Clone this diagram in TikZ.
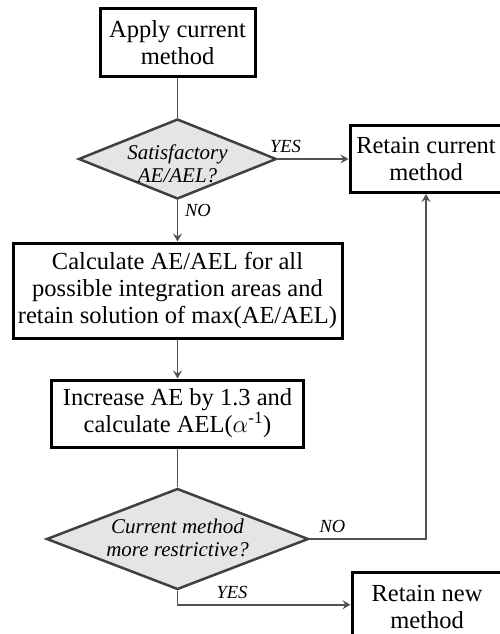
\documentclass[tikz,border=0pt]{standalone}
\usepackage{fontspec}
\setmainfont{Liberation Serif}
\usetikzlibrary{arrows.meta,shapes.geometric}
\begin{document}
\begin{tikzpicture}[x=1pt,y=-1pt,
  box/.style={draw=black,line width=3pt,fill=white,inner sep=0pt,font=\fontsize{24.5}{27}\selectfont,align=center},
  dec/.style={diamond,draw=black!75,line width=2.5pt,fill=black!10,inner sep=0pt},
  dtext/.style={font=\fontsize{21}{23}\selectfont\itshape,align=center,inner sep=0pt},
  lab/.style={font=\fontsize{18.5}{20}\selectfont\itshape,inner sep=0pt},
  conn/.style={draw=black!68,line width=1.8pt},
  arr/.style={conn,-{Stealth[length=8pt,width=9pt,inset=3pt]}}]
\useasboundingbox (0,0) rectangle (500,634);
\clip (0,0) rectangle (500,634);
% nodes
\node[box,minimum width=155pt,minimum height=67pt] (apply) at (177.5,42.5) {Apply current\\method};
\node[dec,minimum width=198pt,minimum height=80pt] (d1) at (177.5,159) {};
\node[dtext] (d1t) at (177.5,164) {Satisfactory\\AE/AEL?};
\node[box,minimum width=152pt,minimum height=67pt] (rc) at (426,159) {Retain current\\method};
\node[box,minimum width=329pt,minimum height=95pt] (calc) at (177.5,290.5) {Calculate AE/AEL for all\\possible integration areas and\\retain solution of max(AE/AEL)};
\node[box,minimum width=252pt,minimum height=67pt] (inc) at (177.5,413.5) {Increase AE by 1.3 and\\calculate AEL($\alpha$\textsuperscript{-1})};
\node[dec,minimum width=262pt,minimum height=101pt] (d2) at (177.5,539) {};
\node[dtext] (d2t) at (177.5,538) {Current method\\more restrictive?};
\node[box,minimum width=150pt,minimum height=70pt] (rn) at (427,607) {Retain new\\method};
% labels
\node[lab] (yes1) at (285.5,146) {YES};
\node[lab] (no1) at (198,210) {NO};
\node[lab] (no2) at (332.5,526.5) {NO};
\node[lab] (yes2) at (232,592) {YES};
% connectors
\draw[conn] (apply.south) -- (d1.north);
\draw[arr] (d1.east) -- (rc.west);
\draw[arr] (d1.south) -- (calc.north);
\draw[arr] (calc.south) -- (inc.north);
\draw[conn] (inc.south) -- (d2.north);
\draw[arr] (d2.east) -| (rc.south);
\draw[arr] (d2.south) -- ++(0,14) coordinate (k) -- (k -| rn.west);
\end{tikzpicture}
\end{document}
